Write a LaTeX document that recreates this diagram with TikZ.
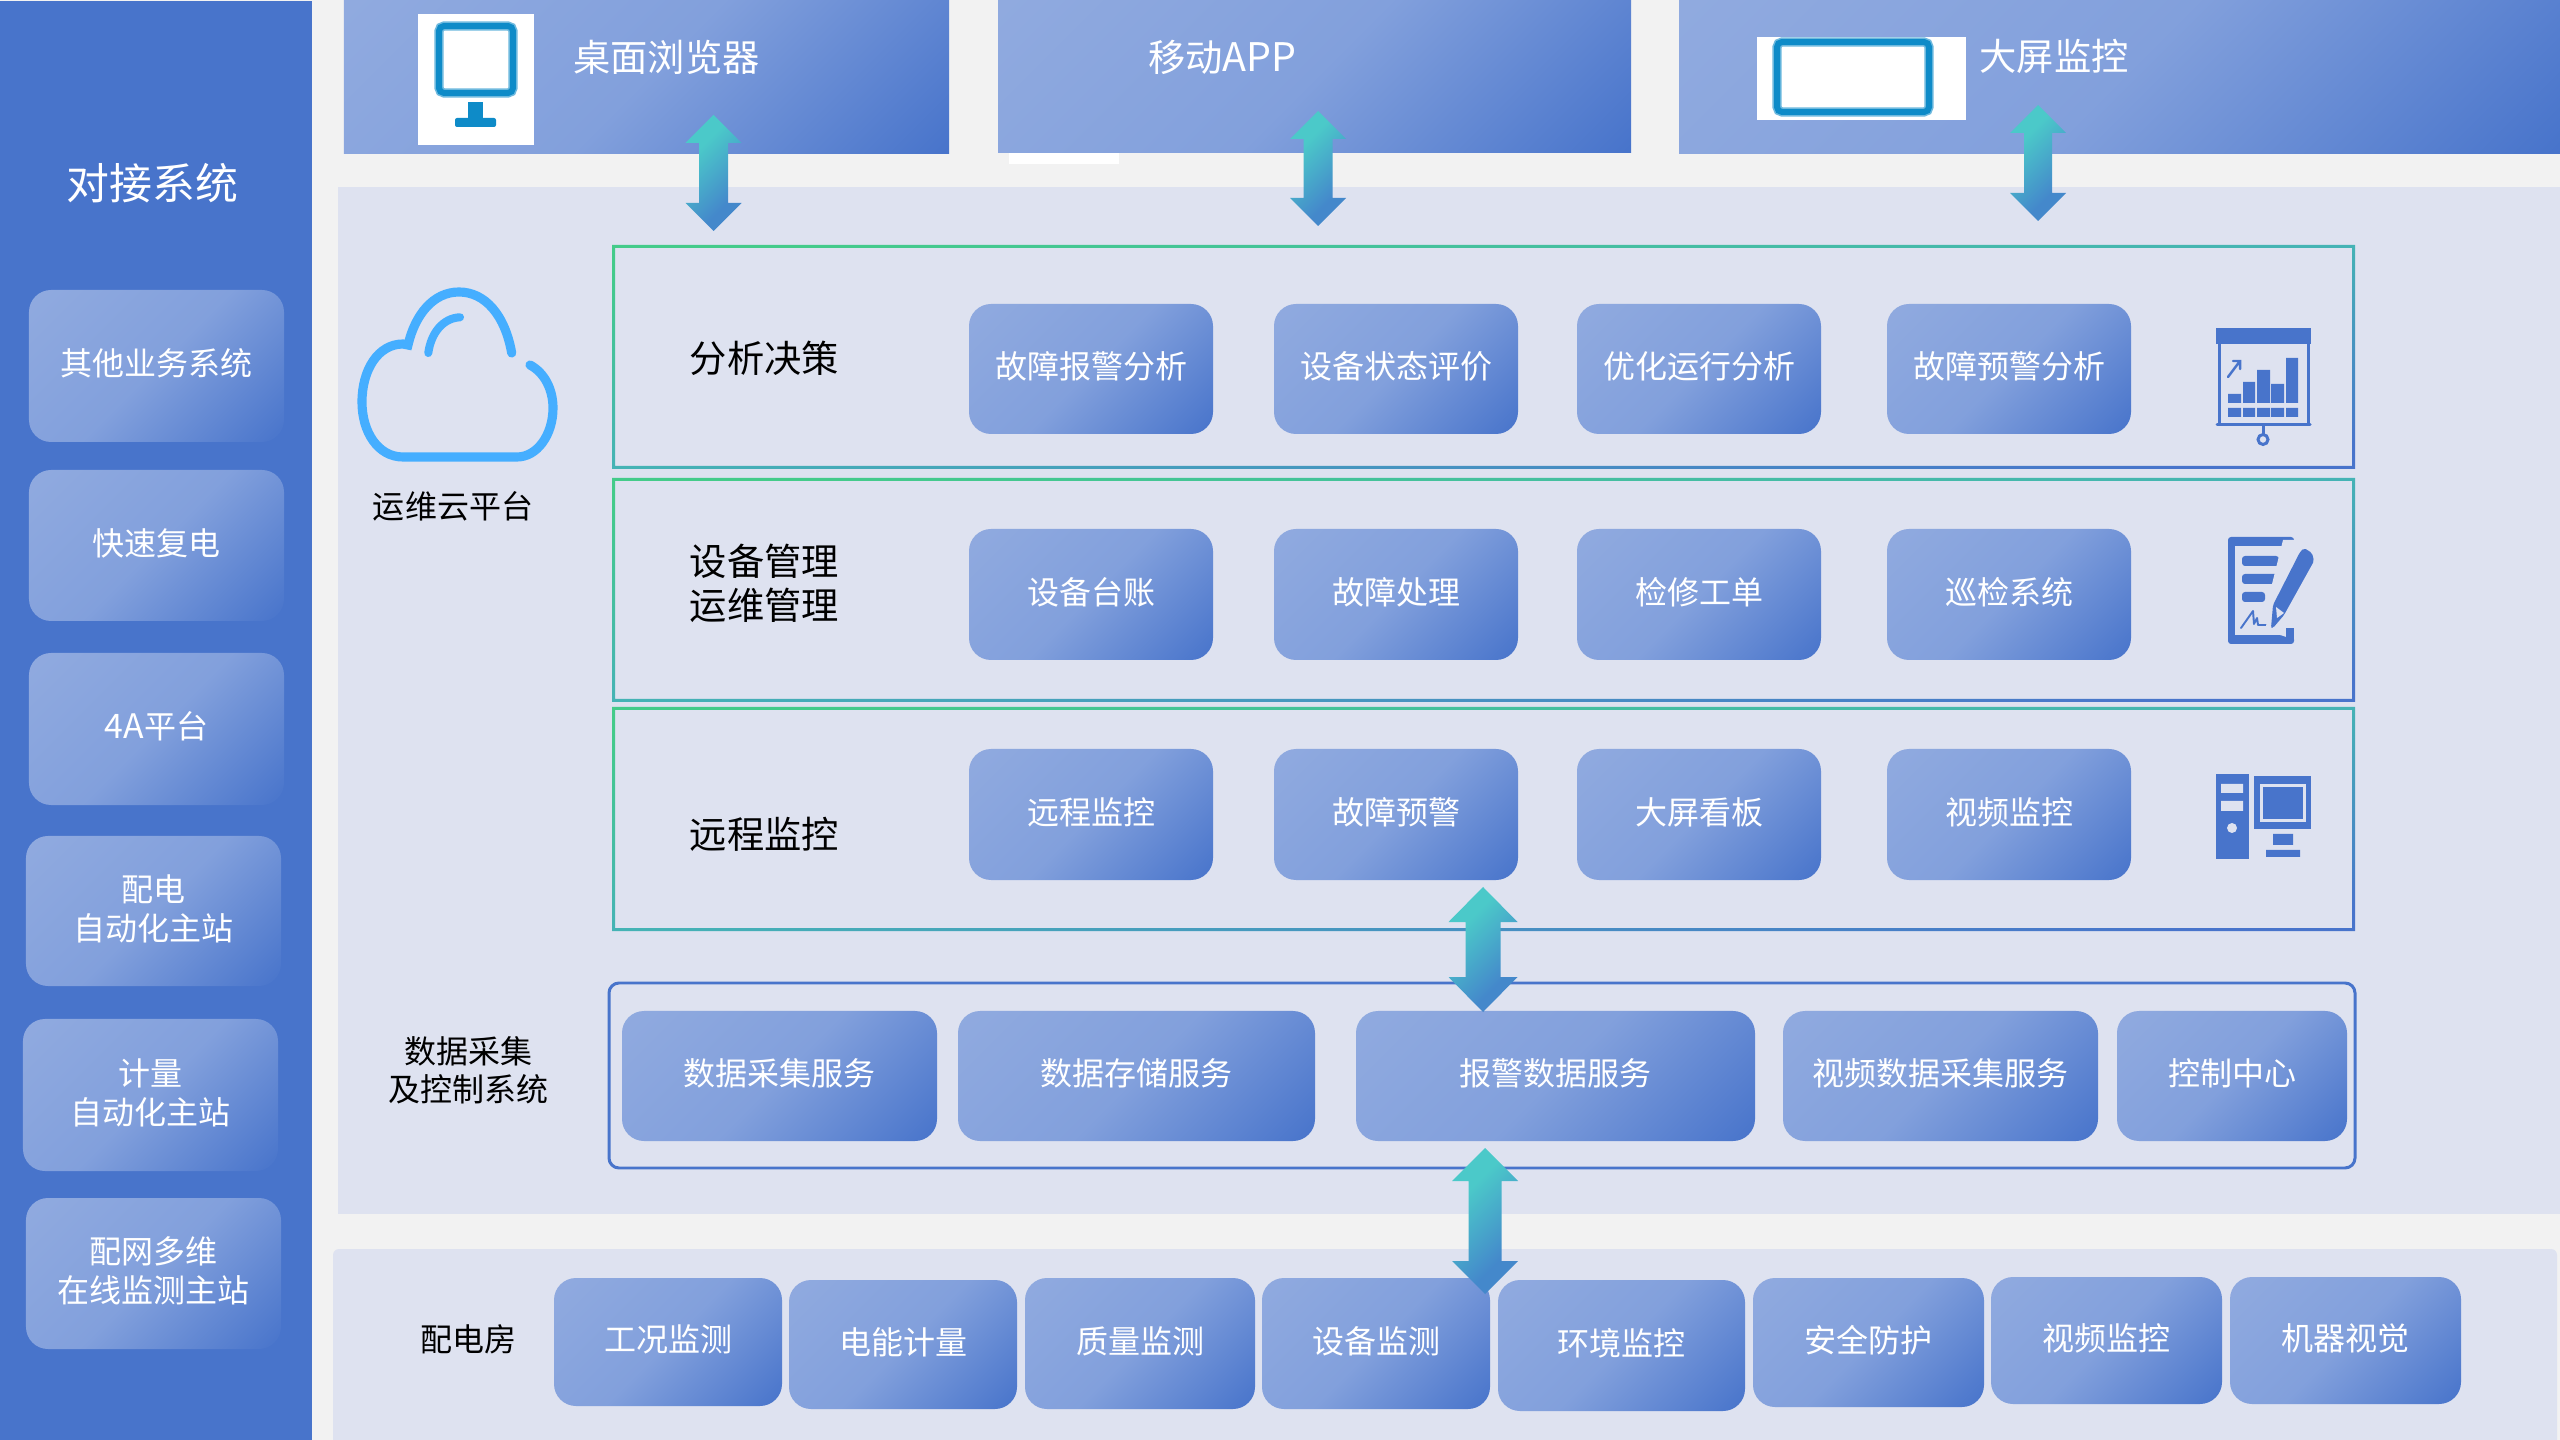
\documentclass[tikz,border=0pt]{standalone}
\usepackage{fontspec}
\setmainfont{Noto Sans CJK SC}
\usetikzlibrary{calc}
\definecolor{pagebg}{HTML}{F2F2F2}
\definecolor{panelbg}{HTML}{DEE2F0}
\definecolor{navy}{HTML}{4874CB}
\definecolor{cloudblue}{HTML}{45AEFF}
\definecolor{iconblue}{HTML}{0E8BC8}
\pgfdeclarehorizontalshading{cardgrad}{100bp}{
  rgb(0bp)=(0.565,0.667,0.875);
  rgb(15bp)=(0.565,0.667,0.875);
  rgb(50bp)=(0.510,0.627,0.863);
  rgb(85bp)=(0.282,0.455,0.796);
  rgb(100bp)=(0.282,0.455,0.796)}
\pgfdeclarehorizontalshading{framegrad}{100bp}{
  rgb(0bp)=(0.267,0.796,0.541);
  rgb(25bp)=(0.267,0.796,0.541);
  rgb(50bp)=(0.271,0.702,0.710);
  rgb(75bp)=(0.282,0.455,0.796);
  rgb(100bp)=(0.282,0.455,0.796)}
\pgfdeclarehorizontalshading{arrowgrad}{100bp}{
  rgb(0bp)=(0.294,0.788,0.788);
  rgb(34bp)=(0.294,0.788,0.788);
  rgb(68bp)=(0.267,0.533,0.796);
  rgb(100bp)=(0.267,0.533,0.796)}
\tikzset{
  x=0.01cm,y=-0.01cm,
  cardbox/.style={shading=cardgrad,shading angle=-45,rounded corners=0.22cm,inner sep=0pt},
  cardtext/.style={text=white,inner sep=0pt,align=center,yshift=0.7pt,
    font=\fontsize{9.1pt}{11.1pt}\selectfont},
  barbox/.style={shading=cardgrad,shading angle=-45,inner sep=0pt},
  blocklabel/.style={text=black,inner sep=0pt,align=center,font=\fontsize{10.6pt}{12.5pt}\selectfont},
  smalllabel/.style={text=black,inner sep=0pt,align=center,font=\fontsize{9.1pt}{10.9pt}\selectfont},
  barlabel/.style={text=white,inner sep=0pt,font=\fontsize{10.6pt}{12.5pt}\selectfont},
  blockarrow/.style={shading=arrowgrad,shading angle=-45},
  ic/.style={fill=navy,draw=none},
  icl/.style={draw=navy,line width=0.85pt,fill=none},
}
% name, x0,y0,x1,y1, text
\newcommand{\boxat}[6]{%
  \pgfmathsetmacro{\bw}{(#4-#2)*0.01}\pgfmathsetmacro{\bh}{(#5-#3)*0.01}%
  \node[cardbox,minimum width=\bw cm,minimum height=\bh cm,
    label={[cardtext]center:{#6}}] (#1) at ({(#2+#4)/2},{(#3+#5)/2}) {};}
\newcommand{\barat}[5]{%
  \pgfmathsetmacro{\bw}{(#4-#2)*0.01}\pgfmathsetmacro{\bh}{(#5-#3)*0.01}%
  \node[barbox,minimum width=\bw cm,minimum height=\bh cm] (#1) at ({(#2+#4)/2},{(#3+#5)/2}) {};}
\newcommand{\frameat}[4]{%
  \path[shading=framegrad,shading angle=-82.7,even odd rule] (#1,#2) rectangle (#3,#4)
    ({#1+3},{#2+3}) rectangle ({#3-3},{#4-3});}
% top coord, bottom coord, head length, head half width, shaft half width
\newcommand{\bigarrow}[5]{%
  \path[blockarrow] (#1) -- ++(#4,#3) -- ++({#5-#4},0) -- ($(#2)+(#5,-#3)$) -- ++({#4-#5},0) -- (#2)
    -- ++(-#4,-#3) -- ++({#4-#5},0) -- ($(#1)+(-#5,#3)$) -- ++({#5-#4},0) -- cycle;}
\begin{document}
\begin{tikzpicture}
\useasboundingbox (0,0) rectangle (2560,1440);
\fill[pagebg] (0,0) rectangle (2560,1440);
% panels
\fill[navy] (0,1) rectangle (312,1440);
\fill[panelbg] (338,187) rectangle (2560,1214);
\fill[panelbg,rounded corners=0.06cm] (333,1249) rectangle (2557,1460);
\fill[white] (1009,150) rectangle (1119,164);
% top bars
\barat{bar1}{344}{1}{949}{154}
\barat{bar2}{998}{0}{1631}{153}
\barat{bar3}{1679}{1}{2560}{154}
\node[barlabel] (t1) at (666.5,57) {桌面浏览器};
\node[barlabel] (t2) at (1222.5,57) {移动{\fontsize{11.2pt}{12.5pt}\selectfont APP}};
\node[barlabel] (t3) at (2054,56) {大屏监控};
% top icons
\fill[white] (418,14) rectangle (534,145);
\draw[iconblue!60,line width=2.6pt,rounded corners=0.05cm] (439,26) rectangle (513,93);
\draw[iconblue,line width=1.7pt,rounded corners=0.05cm] (439,26) rectangle (513,93);
\fill[iconblue] (468,102) rectangle (483,120);
\fill[iconblue,rounded corners=0.02cm] (455,118) rectangle (496,127);
\fill[white] (1757,37) rectangle (1966,120);
\draw[iconblue!60,line width=2.6pt,rounded corners=0.05cm] (1777,42) rectangle (1929,112);
\draw[iconblue,line width=1.7pt,rounded corners=0.05cm] (1777,42) rectangle (1929,112);
% left column
\node[text=white,inner sep=0pt,font=\fontsize{12.2pt}{14pt}\selectfont] (titleL) at (152.5,183) {对接系统};
\boxat{l1}{29}{290}{284}{442}{其他业务系统}
\boxat{l2}{29}{470}{284}{621}{快速复电}
\boxat{l3}{29}{653}{284}{805}{{\fontsize{9.6pt}{11.1pt}\selectfont 4A}平台}
\boxat{l4}{26}{836}{281}{986}{配电\\自动化主站}
\boxat{l5}{23}{1019}{278}{1171}{计量\\自动化主站}
\boxat{l6}{26}{1198}{281}{1349}{配网多维\\在线监测主站}
% cloud
\draw[cloudblue,line width=2.6pt,line cap=round] (511.7,353)
  .. controls (505,315) and (485,292) .. (459,292)
  .. controls (433,292) and (415,315) .. (408,345) -- (403,344)
  .. controls (378,344) and (362,370) .. (362,402)
  .. controls (362,432) and (378,457) .. (403,457) -- (517,457)
  .. controls (537,457) and (553,435) .. (553,408)
  .. controls (553,390) and (545,373) .. (530,365);
\draw[cloudblue,line width=2.3pt,line cap=round] (428.3,353) .. controls (431,333) and (443,318) .. (460,317.3);
\node[smalllabel] (cloudlabel) at (453,506) {运维云平台};
% frames
\frameat{612}{245}{2355}{469}
\frameat{612}{478}{2355}{702}
\frameat{612}{707}{2355}{931}
\draw[navy,line width=0.85pt,rounded corners=0.1cm] (609,983) rectangle (2355,1168);
% labels
\node[blocklabel] (r1) at (764.5,358) {分析决策};
\node[blocklabel] (r2) at (764.5,583) {设备管理\\运维管理};
\node[blocklabel] (r3) at (764.5,834) {远程监控};
\node[smalllabel] (r4) at (468,1070) {数据采集\\及控制系统};
\node[smalllabel] (r5) at (468,1339) {配电房};
% row 1
\boxat{a1}{969}{304}{1213}{434}{故障报警分析}
\boxat{a2}{1274}{304}{1518}{434}{设备状态评价}
\boxat{a3}{1577}{304}{1821}{434}{优化运行分析}
\boxat{a4}{1887}{304}{2131}{434}{故障预警分析}
% row 2
\boxat{b1}{969}{529}{1213}{660}{设备台账}
\boxat{b2}{1274}{529}{1518}{660}{故障处理}
\boxat{b3}{1577}{529}{1821}{660}{检修工单}
\boxat{b4}{1887}{529}{2131}{660}{巡检系统}
% row 3
\boxat{c1}{969}{749}{1213}{880}{远程监控}
\boxat{c2}{1274}{749}{1518}{880}{故障预警}
\boxat{c3}{1577}{749}{1821}{880}{大屏看板}
\boxat{c4}{1887}{749}{2131}{880}{视频监控}
% row 4
\boxat{d1}{622}{1011}{937}{1141}{数据采集服务}
\boxat{d2}{958}{1011}{1315}{1141}{数据存储服务}
\boxat{d3}{1356}{1011}{1755}{1141}{报警数据服务}
\boxat{d4}{1783}{1011}{2098}{1141}{视频数据采集服务}
\boxat{d5}{2117}{1011}{2347}{1141}{控制中心}
% bottom row
\boxat{e1}{554}{1278}{782}{1406}{工况监测}
\boxat{e2}{789}{1280}{1017}{1409}{电能计量}
\boxat{e3}{1025}{1278}{1255}{1409}{质量监测}
\boxat{e4}{1262}{1278}{1490}{1409}{设备监测}
\boxat{e5}{1498}{1280}{1745}{1411}{环境监控}
\boxat{e6}{1753}{1278}{1984}{1407}{安全防护}
\boxat{e7}{1991}{1277}{2222}{1404}{视频监控}
\boxat{e8}{2230}{1277}{2461}{1404}{机器视觉}
% chart icon
\fill[navy] (2216,328) rectangle (2311,344);
\draw[icl] (2219,344) -- (2219,425) (2308,344) -- (2308,425);
\draw[navy,line width=0.85pt,line cap=round] (2217,425) -- (2310,425);
\draw[icl] (2263,426) -- (2263,434);
\draw[icl] (2263,439.5) circle (5);
\fill[ic] (2228,394) rectangle (2241,403) (2243,382) rectangle (2255,403) (2257,370) rectangle (2270,403)
  (2271,384) rectangle (2284,403) (2286,358) rectangle (2298,403);
\fill[ic] (2228,408) rectangle (2241,417) (2243,408) rectangle (2255,417) (2257,408) rectangle (2270,417)
  (2271,408) rectangle (2284,417) (2286,408) rectangle (2298,417);
\draw[navy,line width=0.7pt,line cap=round] (2228,377) -- (2240,361) (2233,361) -- (2240,361) -- (2240,369);
% document icon
\fill[navy,rounded corners=0.03cm] (2228,537) rectangle (2294,644);
\fill[panelbg] (2235,546) rectangle (2286,635);
\fill[navy,rounded corners=0.03cm] (2242,556) rectangle (2279,566) (2242,574) rectangle (2279,584) (2242,592) rectangle (2265,602);
\draw[navy,line width=0.55pt,line cap=round,line join=round] (2241,628) -- (2253,611) -- (2254,624) -- (2257,618) -- (2258,625) -- (2269,625);
\fill[panelbg] (2283,540) -- (2296,540) -- (2296,640) -- (2277,634) -- (2266,628) -- (2268,600) -- cycle;
\fill[navy,rounded corners=0.02cm] (2273,605) -- (2300,552) -- (2304,548) -- (2312,553) -- (2314,561) -- (2284,615) -- (2273,628) -- (2271,628) -- cycle;
\fill[panelbg] (2276,607) -- (2284,613) -- (2277,618) -- cycle;
\fill[navy] (2286,628) rectangle (2294,640);
% computer icon
\fill[navy] (2216,774) rectangle (2249,859);
\fill[panelbg] (2221,784) rectangle (2243,793) (2221,801) rectangle (2243,811);
\fill[panelbg] (2232,828) circle (5);
\fill[navy] (2254,776) rectangle (2311,829);
\fill[panelbg] (2260,784) rectangle (2306,822);
\fill[navy] (2263,787) rectangle (2303,819);
\fill[navy] (2273,834) rectangle (2293,845) (2266,850) rectangle (2300,857);
% arrows
\coordinate (ua1) at (713.5,115); \coordinate (ub1) at (713.5,231);
\coordinate (ua2) at (1318,111);  \coordinate (ub2) at (1318,226);
\coordinate (ua3) at (2038,105);  \coordinate (ub3) at (2038,221);
\coordinate (ua4) at (1483,887);  \coordinate (ub4) at (1483,1012);
\coordinate (ua5) at (1485,1148); \coordinate (ub5) at (1485,1294);
\bigarrow{ua1}{ub1}{28}{28}{14.5}
\bigarrow{ua2}{ub2}{28}{28}{14.5}
\bigarrow{ua3}{ub3}{28}{28}{14}
\bigarrow{ua4}{ub4}{35}{34.5}{17.5}
\bigarrow{ua5}{ub5}{33}{33}{16.5}
\end{tikzpicture}
\end{document}
